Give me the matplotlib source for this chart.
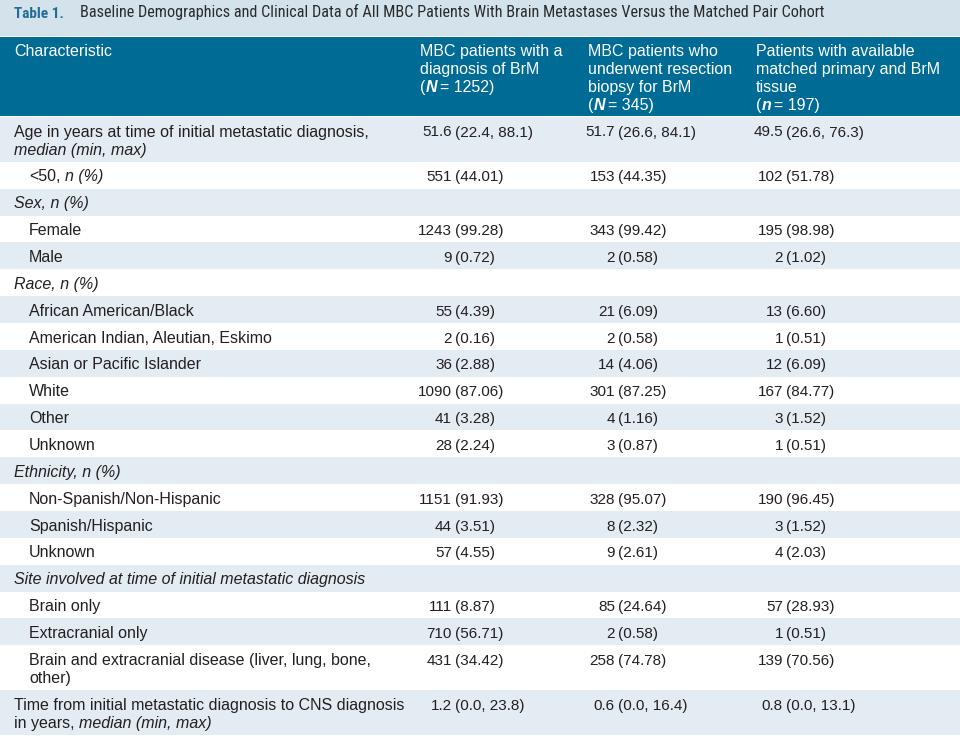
import matplotlib
matplotlib.use("Agg")
import matplotlib.pyplot as plt
from matplotlib.patches import Rectangle
from matplotlib import font_manager as fm

# ---- table content ----
title_tag = "Table 1."
title_text = ("Baseline Demographics and Clinical Data of All MBC Patients "
              "With Brain Metastases Versus the Matched Pair Cohort")

# '*' toggles italic (bold italic inside the header)
col_headers = [
    ["Characteristic"],
    ["MBC patients with a", "diagnosis of BrM", "(*N*= 1252)"],
    ["MBC patients who", "underwent resection", "biopsy for BrM", "(*N*= 345)"],
    ["Patients with available", "matched primary and BrM", "tissue", "(*n*= 197)"],
]

row_labels = [
    ["Age in years at time of initial metastatic diagnosis,", "*median (min, max)*"],
    ["<50, *n (%)*"],
    ["*Sex, n (%)*"],
    ["Female"],
    ["Male"],
    ["*Race, n (%)*"],
    ["African American/Black"],
    ["American Indian, Aleutian, Eskimo"],
    ["Asian or Pacific Islander"],
    ["White"],
    ["Other"],
    ["Unknown"],
    ["*Ethnicity, n (%)*"],
    ["Non-Spanish/Non-Hispanic"],
    ["Spanish/Hispanic"],
    ["Unknown"],
    ["*Site involved at time of initial metastatic diagnosis*"],
    ["Brain only"],
    ["Extracranial only"],
    ["Brain and extracranial disease (liver, lung, bone,", "other)"],
    ["Time from initial metastatic diagnosis to CNS diagnosis", "in years, *median (min, max)*"],
]
row_indent = [0, 1, 0, 1, 1, 0, 1, 1, 1, 1, 1, 1, 0, 1, 1, 1, 0, 1, 1, 1, 0]

brm_all = ["51.6 (22.4, 88.1)", "551 (44.01)", "", "1243 (99.28)", "9 (0.72)", "",
           "55 (4.39)", "2 (0.16)", "36 (2.88)", "1090 (87.06)", "41 (3.28)", "28 (2.24)", "",
           "1151 (91.93)", "44 (3.51)", "57 (4.55)", "",
           "111 (8.87)", "710 (56.71)", "431 (34.42)", "1.2 (0.0, 23.8)"]
brm_resected = ["51.7 (26.6, 84.1)", "153 (44.35)", "", "343 (99.42)", "2 (0.58)", "",
                "21 (6.09)", "2 (0.58)", "14 (4.06)", "301 (87.25)", "4 (1.16)", "3 (0.87)", "",
                "328 (95.07)", "8 (2.32)", "9 (2.61)", "",
                "85 (24.64)", "2 (0.58)", "258 (74.78)", "0.6 (0.0, 16.4)"]
matched_pair = ["49.5 (26.6, 76.3)", "102 (51.78)", "", "195 (98.98)", "2 (1.02)", "",
                "13 (6.60)", "1 (0.51)", "12 (6.09)", "167 (84.77)", "3 (1.52)", "1 (0.51)", "",
                "190 (96.45)", "3 (1.52)", "4 (2.03)", "",
                "57 (28.93)", "1 (0.51)", "139 (70.56)", "0.8 (0.0, 13.1)"]
value_cols = [brm_all, brm_resected, matched_pair]

# ---- style ----
FONT = "Liberation Sans"
FS = 11.5
FS_NUM = 11
TXT = "#231f20"
TEAL = "#006b94"
TITLE_BG = "#d4e2ec"
SHADE = "#e4ecf3"

W, H = 960, 741
fig = plt.figure(figsize=(9.6, 7.41), dpi=100)
ax = fig.add_axes([0, 0, 1, 1])
ax.set_xlim(0, W)
ax.set_ylim(H, 0)
ax.axis("off")
renderer = fig.canvas.get_renderer()


def width(s, **kw):
    t = ax.text(0, 0, s, **kw)
    w = t.get_window_extent(renderer).width
    t.remove()
    return w


def condensed_font(bold):
    # look for any narrow / condensed face installed, else plain Liberation Sans
    best = None
    for f in fm.fontManager.ttflist:
        narrow = ("Narrow" in f.name or "Condensed" in f.name or "Cond" in f.fname
                  or str(f.stretch) in ("condensed", "semi-condensed"))
        if not narrow or f.style != "normal":
            continue
        w = f.weight if isinstance(f.weight, int) else (700 if "bold" in str(f.weight) else 400)
        if (w >= 600) != bold:
            continue
        rank = 0 if "Liberation" in f.name else 1 if "Roboto" in f.name else 2
        if best is None or rank < best[0]:
            best = (rank, f.fname)
    if best:
        return dict(fontproperties=fm.FontProperties(fname=best[1]))
    return dict(family=FONT, weight="bold" if bold else "normal")


def draw_line(x, y, line, color, emph, fs=FS):
    """draw a line with '*' toggling emphasis, left aligned at x, baseline y"""
    base = dict(family=FONT, size=fs, color=color, va="baseline", ha="left")
    parts = line.split("*")
    for i, p in enumerate(parts):
        if not p:
            continue
        kw = dict(base)
        if i % 2 == 1:
            kw.update(emph)
        sp = width("n n", **kw) - width("nn", **kw)
        if p.startswith(" "):
            x += sp
            p = p.lstrip()
        trail = p.endswith(" ")
        p = p.rstrip()
        ax.text(x, y, p, **kw)
        x += width(p, **kw)
        if trail:
            x += sp
        elif i % 2 == 1:
            x += 3


# title band
ax.add_patch(Rectangle((0, 0), W, 36, color=TITLE_BG, lw=0))
reg_kw = condensed_font(False)
bold_kw = condensed_font(True)
tsize = 13
while width(title_text, size=tsize, **reg_kw) > 746 and tsize > 6:
    tsize -= 0.1
tag_size = tsize + 0.5
while width(title_tag, size=tag_size, **bold_kw) > 50 and tag_size > 6:
    tag_size -= 0.1
t1 = ax.text(14, 17.5, title_tag, size=tag_size, color="#1f6e96",
             va="baseline", ha="left", **bold_kw)
t1.get_fontproperties().set_size(tag_size)
t2 = ax.text(80, 17.5, title_text, size=tsize, color="#2b2b2b",
             va="baseline", ha="left", **reg_kw)
t2.get_fontproperties().set_size(tsize)

# header band
head_top, head_bot = 37, 116
ax.add_patch(Rectangle((0, head_top), W, head_bot - head_top, color=TEAL, lw=0))
head_x = [14, 420, 588, 756]
for hx, lines in zip(head_x, col_headers):
    for k, line in enumerate(lines):
        draw_line(hx, head_top + 19 + 18 * k, line, "white",
                  dict(weight="bold", style="italic"))

# body rows
single_h = 26.86
line_h = 18
paren_x = [455, 618, 786]
y = 117
for i, lines in enumerate(row_labels):
    h = single_h + line_h * (len(lines) - 1)
    if i % 2 == 0:
        ax.add_patch(Rectangle((0, y), W, h, color=SHADE, lw=0))
    x0 = 14 + 15 * row_indent[i]
    for k, line in enumerate(lines):
        draw_line(x0, y + 19.5 + line_h * k, line, TXT, dict(style="italic"))
    for px, col in zip(paren_x, value_cols):
        v = col[i]
        if not v:
            continue
        cnt, rest = v.split(" (", 1)
        ax.text(px - 3, y + 19.5, cnt, family=FONT, size=FS_NUM, color=TXT,
                va="baseline", ha="right")
        ax.text(px, y + 19.5, "(" + rest, family=FONT, size=FS_NUM, color=TXT,
                va="baseline", ha="left")
    y += h

fig.savefig("out.png", dpi=100)
